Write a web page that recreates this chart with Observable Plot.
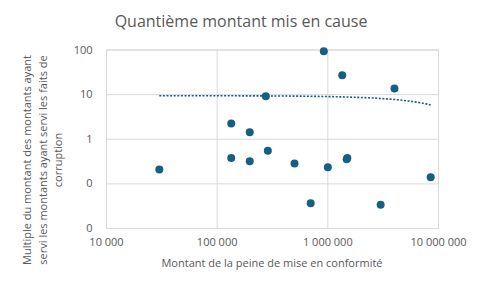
<!DOCTYPE html>
<html>
<head>
<meta charset="utf-8">
<script src="https://cdn.jsdelivr.net/npm/d3@7"></script>
<script src="https://cdn.jsdelivr.net/npm/@observablehq/plot@0.6"></script>
<style>
  html, body { margin: 0; padding: 0; background: #fff; }
  #chart svg { display: block; }
</style>
</head>
<body>
<div id="chart"></div>
<script>
// Data
const penalty = [30000, 134000, 134000, 197000, 197000, 275000, 287000, 500000, 700000, 920000, 1000000, 1350000, 1480000, 1500000, 3000000, 4000000, 8500000];
const multiple = [0.21, 2.25, 0.38, 1.44, 0.32, 9.2, 0.55, 0.285, 0.037, 94, 0.235, 27.2, 0.356, 0.38, 0.034, 13.7, 0.14];

const xTicks = [10000, 100000, 1000000, 10000000];
const xTickLabels = ["10 000", "100 000", "1 000 000", "10 000 000"];
const yTicks = [0.01, 0.1, 1, 10, 100];
const yTickLabels = ["0", "0", "1", "10", "100"];

const title = "Quantième montant mis en cause";
const xTitle = "Montant de la peine de mise en conformité";
const yTitleLines = ["Multiple du montant des montants ayant", "servi les montants ayant servi les faits de", "corruption"];

const points = penalty.map((x, i) => ({x, y: multiple[i]}));

// Linear trendline (least squares on raw values), drawn on log axes
const mx = d3.mean(penalty), my = d3.mean(multiple);
const sxy = d3.sum(points, d => (d.x - mx) * (d.y - my));
const sxx = d3.sum(points, d => (d.x - mx) ** 2);
const slope = sxy / sxx, intercept = my - slope * mx;
const [x0, x1] = d3.extent(penalty);
const trend = d3.range(0, 61).map(i => {
  const x = Math.exp(Math.log(x0) + (Math.log(x1) - Math.log(x0)) * i / 60);
  return {x, y: intercept + slope * x};
});

const color = "#156082";
const grey = "#595959";
const font = "'Open Sans', sans-serif";

const chart = Plot.plot({
  width: 480,
  height: 288,
  marginLeft: 106,
  marginRight: 42,
  marginTop: 49.5,
  marginBottom: 60,
  style: {fontFamily: font, fontSize: "11px", color: grey, background: "#fff"},
  x: {type: "log", domain: [10000, 10000000]},
  y: {type: "log", domain: [0.01, 100]},
  marks: [
    Plot.gridX(xTicks, {stroke: "#d9d9d9", strokeOpacity: 1, strokeWidth: 1}),
    Plot.gridY(yTicks, {stroke: "#d9d9d9", strokeOpacity: 1, strokeWidth: 1}),
    Plot.frame({stroke: "#d9d9d9", strokeWidth: 1}),
    Plot.axisX({ticks: xTicks, tickFormat: (d) => xTickLabels[xTicks.indexOf(d)], tickSize: 0, tickPadding: 10, label: null, fill: grey, fontSize: 11}),
    Plot.axisY({ticks: yTicks, tickFormat: (d) => yTickLabels[yTicks.indexOf(d)], tickSize: 0, tickPadding: 14, label: null, fill: grey, fontSize: 11}),
    Plot.line(trend, {x: "x", y: "y", stroke: color, strokeWidth: 1.6, strokeDasharray: "2,1.6", strokeLinecap: "butt"}),
    Plot.dot(points, {x: "x", y: "y", r: 4, fill: color, stroke: "none"})
  ]
});

const svg = d3.select(chart);
svg.append("text")
  .attr("x", 241).attr("y", 27)
  .attr("text-anchor", "middle")
  .attr("fill", grey)
  .style("font-family", font).style("font-size", "16px")
  .text(title);
svg.append("text")
  .attr("x", 272).attr("y", 267)
  .attr("text-anchor", "middle")
  .attr("fill", grey)
  .style("font-family", font).style("font-size", "11px")
  .text(xTitle);
yTitleLines.forEach((line, i) => {
  svg.append("text")
    .attr("transform", `translate(${31 + i * 15.5},160) rotate(-90)`)
    .attr("text-anchor", "middle")
    .attr("fill", grey)
    .style("font-family", font).style("font-size", "11px")
    .text(line);
});

document.getElementById("chart").appendChild(chart);
</script>
</body>
</html>
